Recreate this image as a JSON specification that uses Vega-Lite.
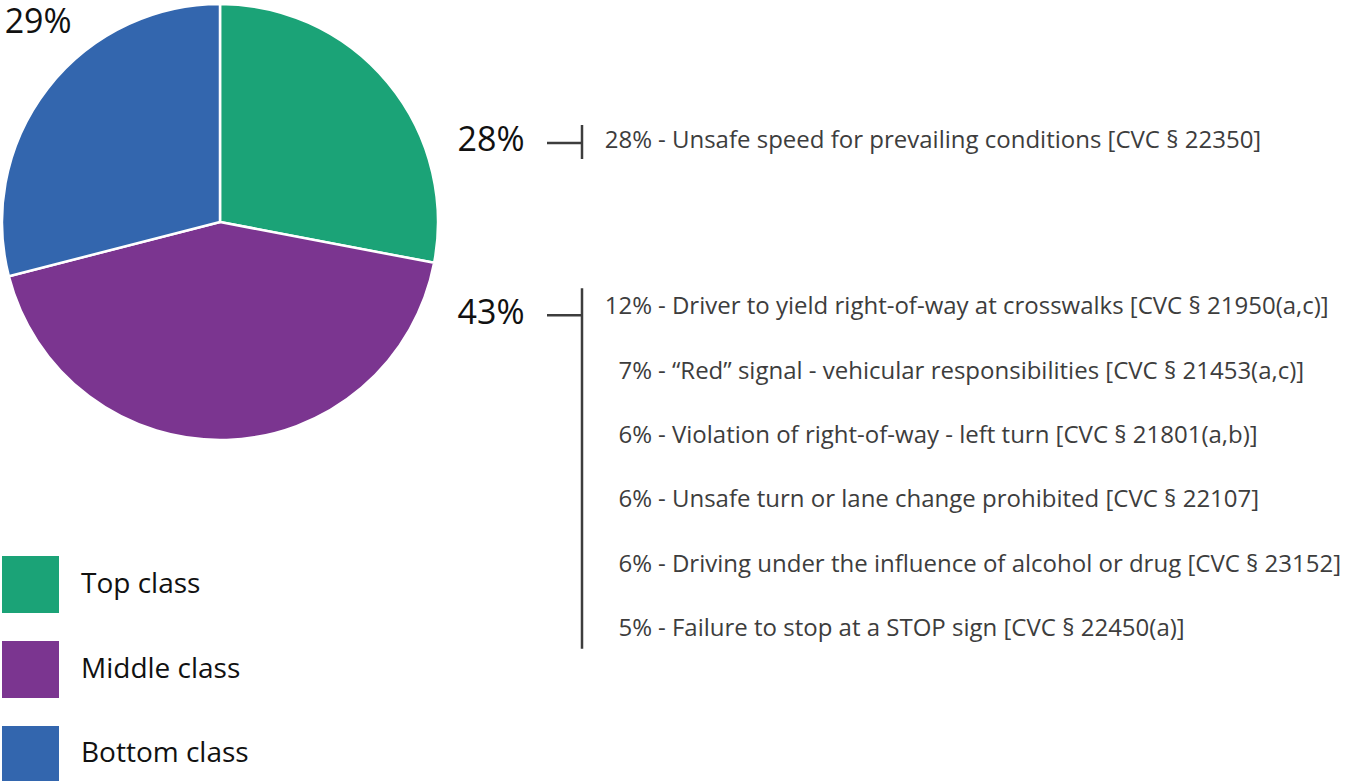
{
  "$schema": "https://vega.github.io/schema/vega-lite/v6.json",
  "padding": {"left": 0, "top": 2, "right": 0, "bottom": 0},
  "background": "white",
  "config": {"view": {"stroke": null}, "font": "Open Sans"},
  "datasets": {
    "classes": [
      {"class": "Top class", "share": 28},
      {"class": "Middle class", "share": 43},
      {"class": "Bottom class", "share": 29}
    ],
    "causes": [
      {"class": "Top class", "rank": 1, "pct": 28, "cause": "Unsafe speed for prevailing conditions [CVC § 22350]"},
      {"class": "Middle class", "rank": 1, "pct": 12, "cause": "Driver to yield right-of-way at crosswalks [CVC § 21950(a,c)]"},
      {"class": "Middle class", "rank": 2, "pct": 7, "cause": "“Red” signal - vehicular responsibilities [CVC § 21453(a,c)]"},
      {"class": "Middle class", "rank": 3, "pct": 6, "cause": "Violation of right-of-way - left turn [CVC § 21801(a,b)]"},
      {"class": "Middle class", "rank": 4, "pct": 6, "cause": "Unsafe turn or lane change prohibited [CVC § 22107]"},
      {"class": "Middle class", "rank": 5, "pct": 6, "cause": "Driving under the influence of alcohol or drug [CVC § 23152]"},
      {"class": "Middle class", "rank": 6, "pct": 5, "cause": "Failure to stop at a STOP sign [CVC § 22450(a)]"}
    ]
  },
  "spacing": 1,
  "hconcat": [
    {
      "spacing": 114,
      "vconcat": [
        {
          "width": 436,
          "height": 436,
          "data": {"name": "classes"},
          "transform": [
            {"calculate": "indexof(['Top class','Middle class','Bottom class'], datum.class)", "as": "ord"}
          ],
          "layer": [
            {
              "mark": {"type": "arc", "stroke": "white", "strokeWidth": 2.5, "strokeJoin": "round"},
              "encoding": {
                "theta": {"field": "share", "type": "quantitative", "stack": true, "scale": {"domain": [0, 100]}},
                "order": {"field": "ord", "type": "quantitative"},
                "color": {
                  "field": "class",
                  "type": "nominal",
                  "scale": {"domain": ["Top class", "Middle class", "Bottom class"], "range": ["#1ba377", "#7b3590", "#3366ae"]},
                  "legend": null
                }
              }
            },
            {
              "transform": [
                {"stack": "share", "groupby": [], "sort": [{"field": "ord", "order": "ascending"}], "as": ["s0", "s1"]},
                {"filter": "datum.class === 'Bottom class'"},
                {"calculate": "(datum.s0 + datum.s1) / 2", "as": "mid"},
                {"calculate": "datum.share + '%'", "as": "tag"}
              ],
              "mark": {"type": "text", "radius": 270, "align": "left", "baseline": "top", "dx": -2, "dy": -51, "fontSize": 34, "fill": "#111111"},
              "encoding": {
                "theta": {"field": "mid", "type": "quantitative", "stack": null, "scale": {"domain": [0, 100]}},
                "text": {"field": "tag"}
              }
            }
          ]
        },
        {
          "spacing": 22,
          "bounds": "flush",
          "hconcat": [
            {
              "width": 57,
              "height": 227,
              "data": {"name": "classes"},
              "mark": {"type": "rect"},
              "encoding": {
                "y": {"field": "class", "type": "nominal", "sort": ["Top class", "Middle class", "Bottom class"], "scale": {"type": "band", "paddingInner": 0.329, "paddingOuter": 0}, "axis": null},
                "color": {
                  "field": "class",
                  "type": "nominal",
                  "scale": {"domain": ["Top class", "Middle class", "Bottom class"], "range": ["#1ba377", "#7b3590", "#3366ae"]},
                  "legend": null
                }
              }
            },
            {
              "width": 200,
              "height": 227,
              "data": {"name": "classes"},
              "mark": {"type": "text", "align": "left", "baseline": "middle", "fontSize": 28, "fill": "#111111"},
              "encoding": {
                "x": {"value": 0},
                "y": {"field": "class", "type": "nominal", "sort": ["Top class", "Middle class", "Bottom class"], "scale": {"type": "band", "paddingInner": 0.329, "paddingOuter": 0}, "axis": null},
                "text": {"field": "class"}
              }
            }
          ]
        }
      ]
    },
    {
      "spacing": 102,
      "vconcat": [
        {"width": 10, "height": 3, "data": {"values": []}, "mark": "point"},
        {
          "spacing": 6,
          "bounds": "flush",
          "hconcat": [
            {
              "width": 100,
              "height": 64,
              "data": {"name": "classes"},
              "transform": [{"filter": "datum.class === 'Top class'"}, {"calculate": "datum.share + '%'", "as": "big"}],
              "mark": {"type": "text", "fontSize": 34, "fill": "#111111", "baseline": "middle", "dy": 0},
              "encoding": {
                "y": {"datum": 1, "type": "quantitative", "scale": {"domain": [0.5, 1.5], "reverse": true}, "axis": null},
                "text": {"field": "big"}
              }
            },
            {
              "width": 35,
              "height": 64,
              "layer": [
                {
                  "data": {"name": "classes"},
                  "transform": [{"filter": "datum.class === 'Top class'"}],
                  "mark": {"type": "rule", "stroke": "#3d3d3d", "strokeWidth": 2.5, "yOffset": 2},
                  "encoding": {
                    "y": {"datum": 1, "type": "quantitative", "scale": {"domain": [0.5, 1.5], "reverse": true}, "axis": null}
                  }
                },
                {
                  "data": {"name": "causes"},
                  "transform": [
                    {"filter": "datum.class === 'Top class'"},
                    {"aggregate": [{"op": "min", "field": "rank", "as": "lo"}, {"op": "max", "field": "rank", "as": "hi"}]}
                  ],
                  "mark": {"type": "rule", "stroke": "#3d3d3d", "strokeWidth": 2.5, "yOffset": -16, "y2Offset": 18},
                  "encoding": {
                    "x": {"value": "width"},
                    "y": {"field": "lo", "type": "quantitative", "scale": {"domain": [0.5, 1.5], "reverse": true}, "axis": null},
                    "y2": {"field": "hi"}
                  }
                }
              ]
            },
            {
              "width": 64,
              "height": 64,
              "data": {"name": "causes"},
              "transform": [{"filter": "datum.class === 'Top class'"}, {"calculate": "datum.pct + '%'", "as": "p"}],
              "mark": {"type": "text", "align": "right", "baseline": "middle", "fontSize": 24, "fill": "#3d3d3d"},
              "encoding": {
                "x": {"value": "width"},
                "y": {"field": "rank", "type": "quantitative", "scale": {"domain": [0.5, 1.5], "reverse": true}, "axis": null},
                "text": {"field": "p"}
              }
            },
            {
              "width": 680,
              "height": 64,
              "data": {"name": "causes"},
              "transform": [{"filter": "datum.class === 'Top class'"}, {"calculate": "'- ' + datum.cause", "as": "d"}],
              "mark": {"type": "text", "align": "left", "baseline": "middle", "fontSize": 24, "fill": "#3d3d3d"},
              "encoding": {
                "x": {"value": 0},
                "y": {"field": "rank", "type": "quantitative", "scale": {"domain": [0.5, 1.5], "reverse": true}, "axis": null},
                "text": {"field": "d"}
              }
            }
          ]
        },
        {
          "spacing": 6,
          "bounds": "flush",
          "hconcat": [
            {
              "width": 100,
              "height": 386,
              "data": {"name": "classes"},
              "transform": [{"filter": "datum.class === 'Middle class'"}, {"calculate": "datum.share + '%'", "as": "big"}],
              "mark": {"type": "text", "fontSize": 34, "fill": "#111111", "baseline": "middle", "dy": 7},
              "encoding": {
                "y": {"datum": 1, "type": "quantitative", "scale": {"domain": [0.5, 6.5], "reverse": true}, "axis": null},
                "text": {"field": "big"}
              }
            },
            {
              "width": 35,
              "height": 386,
              "layer": [
                {
                  "data": {"name": "classes"},
                  "transform": [{"filter": "datum.class === 'Middle class'"}],
                  "mark": {"type": "rule", "stroke": "#3d3d3d", "strokeWidth": 2.5, "yOffset": 8},
                  "encoding": {
                    "y": {"datum": 1, "type": "quantitative", "scale": {"domain": [0.5, 6.5], "reverse": true}, "axis": null}
                  }
                },
                {
                  "data": {"name": "causes"},
                  "transform": [
                    {"filter": "datum.class === 'Middle class'"},
                    {"aggregate": [{"op": "min", "field": "rank", "as": "lo"}, {"op": "max", "field": "rank", "as": "hi"}]}
                  ],
                  "mark": {"type": "rule", "stroke": "#3d3d3d", "strokeWidth": 2.5, "yOffset": -19, "y2Offset": 20},
                  "encoding": {
                    "x": {"value": "width"},
                    "y": {"field": "lo", "type": "quantitative", "scale": {"domain": [0.5, 6.5], "reverse": true}, "axis": null},
                    "y2": {"field": "hi"}
                  }
                }
              ]
            },
            {
              "width": 64,
              "height": 386,
              "data": {"name": "causes"},
              "transform": [{"filter": "datum.class === 'Middle class'"}, {"calculate": "datum.pct + '%'", "as": "p"}],
              "mark": {"type": "text", "align": "right", "baseline": "middle", "fontSize": 24, "fill": "#3d3d3d"},
              "encoding": {
                "x": {"value": "width"},
                "y": {"field": "rank", "type": "quantitative", "scale": {"domain": [0.5, 6.5], "reverse": true}, "axis": null},
                "text": {"field": "p"}
              }
            },
            {
              "width": 680,
              "height": 386,
              "data": {"name": "causes"},
              "transform": [{"filter": "datum.class === 'Middle class'"}, {"calculate": "'- ' + datum.cause", "as": "d"}],
              "mark": {"type": "text", "align": "left", "baseline": "middle", "fontSize": 24, "fill": "#3d3d3d"},
              "encoding": {
                "x": {"value": 0},
                "y": {"field": "rank", "type": "quantitative", "scale": {"domain": [0.5, 6.5], "reverse": true}, "axis": null},
                "text": {"field": "d"}
              }
            }
          ]
        }
      ]
    }
  ]
}
